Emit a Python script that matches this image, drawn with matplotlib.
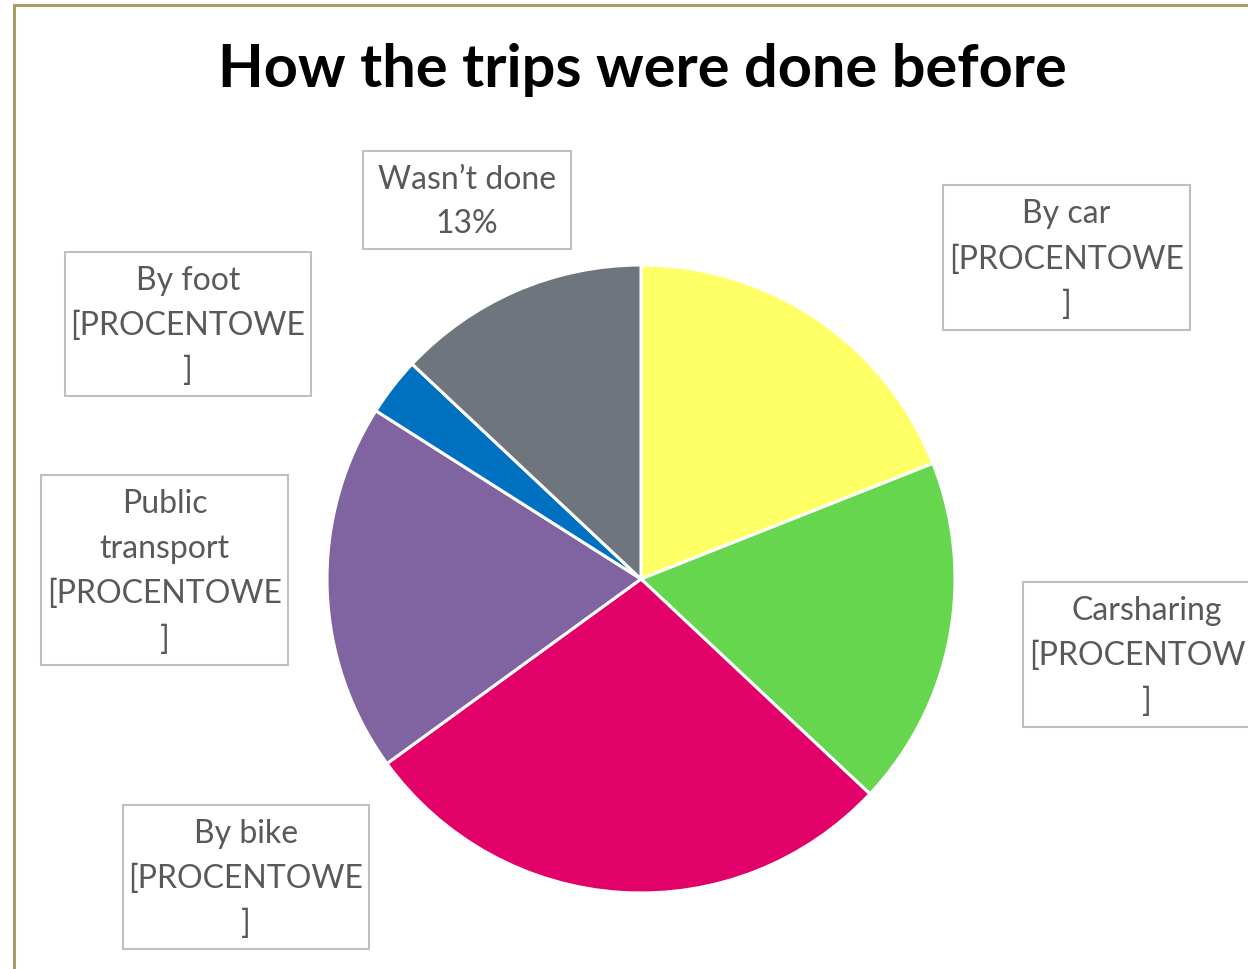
import matplotlib
matplotlib.use("Agg")
import matplotlib.pyplot as plt
from matplotlib.patches import Rectangle

# Data
categories = ["By car", "Carsharing", "By bike", "Public transport", "By foot", "Wasn't done"]
values = [19, 18, 28, 19, 3, 13]
label_texts = ["By car\n[PROCENTOWE\n]", "Carsharing\n[PROCENTOWE\n]", "By bike\n[PROCENTOWE\n]",
               "Public\ntransport\n[PROCENTOWE\n]", "By foot\n[PROCENTOWE\n]", "Wasn\u2019t done\n13%"]
colors = ["#FFFF66", "#66D64F", "#E20069", "#8064A1", "#0070C0", "#6E757C"]

W, H = 1248, 969
fig = plt.figure(figsize=(W / 100, H / 100), dpi=100)
ax = fig.add_axes([0, 0, 1, 1])

def Y(y):
    return H - y

# pie
ax.pie(values, colors=colors, startangle=90, counterclock=False, center=(641, Y(579)), radius=314,
       wedgeprops=dict(edgecolor="white", linewidth=2.2), frame=True)
ax.set_xlim(0, W)
ax.set_ylim(0, H)
ax.set_aspect("equal")
ax.axis("off")

# outer frame
ax.add_patch(Rectangle((14, Y(1100)), 1400, 1100 - 5, fill=False, edgecolor="#A99D6B", lw=2.2))

# label boxes (x0, y0, x1, y1) in pixel layout
boxes = [(943, 185, 1190, 330), (1023, 582, 1270, 727), (123, 805, 369, 949),
         (41, 475, 288, 665), (65, 252, 311, 396), (363, 151, 571, 249)]
for txt, (x0, y0, x1, y1) in zip(label_texts, boxes):
    ax.add_patch(Rectangle((x0, Y(y1)), x1 - x0, y1 - y0, fill=True, facecolor="white",
                           edgecolor="#BFBFBF", lw=1.5, zorder=5))
    ax.text((x0 + x1) / 2, Y((y0 + y1) / 2 + 2), txt, ha="center", va="center", fontsize=23,
            family="Lato", color="#595959", linespacing=1.62, zorder=6)

ax.text(642, Y(70), "How the trips were done before", ha="center", va="center", fontsize=42.8,
        fontweight="bold", family="Lato", color="black")

fig.savefig("out.png", dpi=100)
